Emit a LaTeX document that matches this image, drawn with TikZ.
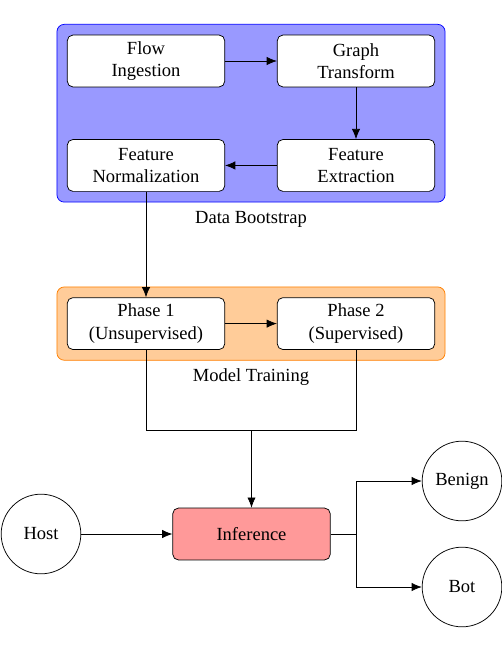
\documentclass[tikz,border=0pt]{standalone}
\usepackage{fontspec}
\setmainfont{Liberation Serif}
\usepackage{tikz}
\usetikzlibrary{positioning,shapes,arrows.meta,fit,backgrounds}
\tikzstyle{stage}=[rectangle, rounded corners=3pt, draw=black, fill=white, text centered, align=center, minimum width=85pt, minimum height=28pt]
\tikzstyle{endpoint}=[circle, draw=black, minimum size=43pt, inner sep=0pt]
\tikzstyle{group}=[rectangle, rounded corners=4pt, inner xsep=5.4pt, inner ysep=5.6pt]
\tikzset{>={Latex[length=5.5pt,width=4.5pt]}}

\begin{document}
\begin{tikzpicture}[x=0.54pt, y=-0.54pt, node distance=28pt and 28pt]
    \useasboundingbox (0,0) rectangle (502,662);

        \node (ingest)[stage] at (146,61) {Flow\\Ingestion};
        \node (graph)[stage, right=of ingest]{Graph\\Transform};
        \node (extract)[stage, below=of graph]{Feature\\Extraction};
        \node (normal)[stage, left=of extract]{Feature\\Normalization};

        \node (phase1)[stage, below=57pt of normal]{Phase 1\\(Unsupervised)};
        \node (phase2)[stage, right=of phase1]{Phase 2\\(Supervised)};

        \node (infer)[stage, fill=red!40] at (251.5,534) {Inference};
        \node (host)[endpoint] at (41,534) {Host};
        \node (benign)[endpoint] at (462,481) {Benign};
        \node (bot)[endpoint] at (462,587) {Bot};

        \begin{scope}[on background layer]
            \node (bootstrap)[group, draw=blue, fill=blue!40, fit=(ingest) (extract)] {};
            \node (training)[group, draw=orange, fill=orange!40, fit=(phase1) (phase2)] {};
        \end{scope}

        \node (bootstrapDesc)[below=1pt of bootstrap] {Data Bootstrap};
        \node (trainingDesc)[below=1pt of training] {Model Training};

        \draw [->] (ingest) -- (graph);
        \draw [->] (graph) -- (extract);
        \draw [->] (extract) -- (normal);
        \draw [->] (normal) -- (phase1);
        \draw [->] (phase1) -- (phase2);

        \coordinate (merge) at (251.5,430);
        \draw (phase1.south) |- (merge);
        \draw (phase2.south) |- (merge);
        \draw [->] (merge) -- (infer);

        \draw [->] (host) -- (infer);

        \coordinate (split) at (356,534);
        \draw (infer) -- (split);
        \draw [->] (split) |- (benign);
        \draw [->] (split) |- (bot);

\end{tikzpicture}
\end{document}
